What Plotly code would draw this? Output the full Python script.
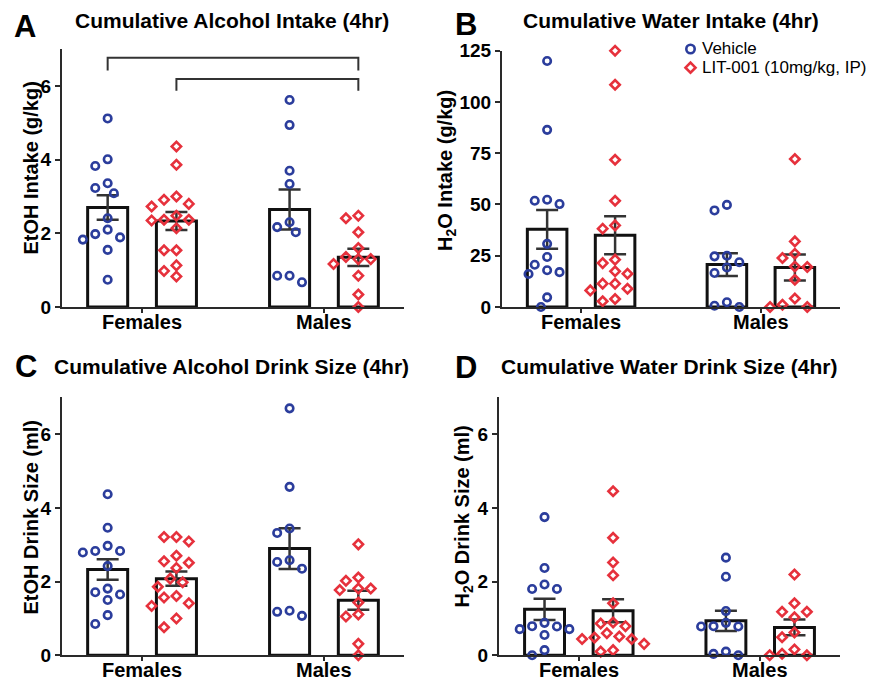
import numpy as np
import plotly.graph_objects as go

W, H = 874, 680

groups = ["Females", "Males"]
series_names = ["Vehicle", "LIT-001 (10mg/kg, IP)"]

# ---- Panel A: Cumulative Alcohol Intake (g/kg)
a_fem_veh = [5.12, 4.01, 3.83, 3.36, 3.23, 3.09, 2.41, 2.10, 1.98, 1.89, 1.83, 1.55, 0.74]
a_fem_lit = [4.36, 3.86, 3.00, 2.91, 2.80, 2.73, 2.48, 2.37, 2.37, 2.35, 2.14, 1.54, 1.54, 1.13, 0.98, 0.83]
a_mal_veh = [5.62, 4.94, 3.70, 3.34, 2.30, 2.17, 2.03, 0.85, 0.85, 0.67]
a_mal_lit = [2.48, 2.41, 2.03, 1.60, 1.36, 1.30, 1.30, 1.17, 0.85, 0.34, 0.00]

# ---- Panel B: Cumulative Water Intake (g/kg)
b_fem_veh = [120.0, 86.4, 52.3, 51.8, 50.2, 30.8, 24.4, 20.6, 17.9, 17.0, 16.1, 4.7, 0.0]
b_fem_lit = [125.0, 108.4, 71.8, 51.8, 39.8, 38.2, 23.1, 21.4, 17.4, 16.2, 11.4, 11.4, 8.9, 8.1, 3.9, 2.8]
b_mal_veh = [49.8, 47.1, 25.0, 24.7, 21.8, 19.3, 16.6, 2.3, 0.6, 0.0]
b_mal_lit = [72.2, 32.0, 26.0, 23.9, 19.8, 19.5, 13.3, 4.1, 1.1, 0.0, 0.0]

# ---- Panel C: Cumulative Alcohol Drink Size (ml)
c_fem_veh = [4.37, 3.46, 2.97, 2.83, 2.83, 2.79, 2.42, 1.81, 1.71, 1.65, 1.50, 1.09, 0.85]
c_fem_lit = [3.21, 3.21, 3.09, 2.70, 2.55, 2.51, 2.37, 2.08, 1.98, 1.86, 1.61, 1.57, 1.41, 1.34, 1.00, 0.76]
c_mal_veh = [6.70, 4.57, 3.44, 3.32, 2.58, 2.53, 2.35, 1.21, 1.18, 1.07]
c_mal_lit = [3.01, 2.11, 2.02, 1.81, 1.81, 1.77, 1.43, 1.11, 1.05, 0.31, 0.00]

# ---- Panel D: Cumulative Water Drink Size (ml)
d_fem_veh = [3.75, 2.37, 1.92, 1.80, 1.80, 0.88, 0.79, 0.78, 0.71, 0.71, 0.55, 0.14, 0.00]
d_fem_lit = [4.45, 3.19, 2.52, 2.17, 1.41, 0.89, 0.86, 0.79, 0.60, 0.51, 0.48, 0.44, 0.44, 0.31, 0.14, 0.10]
d_mal_veh = [2.65, 2.13, 1.20, 0.88, 0.79, 0.78, 0.78, 0.10, 0.04, 0.00]
d_mal_lit = [2.19, 1.41, 1.18, 1.18, 1.03, 0.62, 0.49, 0.16, 0.04, 0.00, 0.00]

# tick labels
ytick_ml = [0, 2, 4, 6]
ytick_water = [0, 25, 50, 75, 100, 125]

panels = [
    dict(letter="A", title="Cumulative Alcohol Intake (4hr)", ytitle="EtOH Intake (g/kg)",
         data=[[a_fem_veh, a_mal_veh], [a_fem_lit, a_mal_lit]], yrange=[0, 7], ticks=ytick_ml,
         box=(62, 404, 49.2, 307)),
    dict(letter="B", title="Cumulative Water Intake (4hr)", ytitle="H<sub>2</sub>O Intake (g/kg)",
         data=[[b_fem_veh, b_mal_veh], [b_fem_lit, b_mal_lit]], yrange=[0, 125], ticks=ytick_water,
         box=(502, 840, 50.7, 307)),
    dict(letter="C", title="Cumulative Alcohol Drink Size (4hr)", ytitle="EtOH Drink Size (ml)",
         data=[[c_fem_veh, c_mal_veh], [c_fem_lit, c_mal_lit]], yrange=[0, 7], ticks=ytick_ml,
         box=(62, 404, 397.3, 655.3)),
    dict(letter="D", title="Cumulative Water Drink Size (4hr)", ytitle="H<sub>2</sub>O Drink Size (ml)",
         data=[[d_fem_veh, d_mal_veh], [d_fem_lit, d_mal_lit]], yrange=[0, 7], ticks=ytick_ml,
         box=(499, 840, 397.3, 655.3)),
]

# ---- styles
BLUE = "#2b3d9c"
RED = "#e6313c"
colors = [BLUE, RED]
symbols = ["circle-open", "diamond-open"]
msizes = [7.5, 7.2]
offsets = [-0.189, 0.189]
BAR_W = 0.22
XRANGE = [-0.44, 1.44]
FONT = "Arial, Liberation Sans, Helvetica, sans-serif"
AX = "#2a2a2a"

title_pos = {"A": (232, 20), "B": (671, 20), "C": (232, 366.5), "D": (669, 366.5)}
letter_pos = {"A": (25, 27), "B": (466, 25), "C": (25.5, 366), "D": (466, 367)}
ytitle_pos = {"A": (30, 168.5), "B": (446, 171), "C": (30, 517.5), "D": (463, 516.5)}
CAT_LABEL_GAP = 15
legend_pos = [(690.5, 49), (690.5, 67.7)]


def xp(px):
    return px / W


def yp(py):
    return 1 - py / H


def swarm(vals, ppx, ppy, step=6.2, dia=11.0):
    placed = []
    offs = []
    cands = [0]
    for k in range(1, 12):
        cands += [-k, k]
    for v in vals:
        y = v * ppy
        xsel = 0
        for k in cands:
            x = k * step
            if all((x - a) ** 2 + (y - b) ** 2 >= dia ** 2 for a, b in placed):
                xsel = x
                break
        placed.append((xsel, y))
        offs.append(xsel / ppx)
    return offs


fig = go.Figure()
layout = dict(
    width=W, height=H, margin=dict(l=0, r=0, t=0, b=0, autoexpand=False),
    paper_bgcolor="white", plot_bgcolor="white",
    font=dict(family=FONT, color="black"),
    showlegend=False,
    annotations=[], shapes=[],
)

for i, p in enumerate(panels, start=1):
    xa = "x" if i == 1 else f"x{i}"
    ya = "y" if i == 1 else f"y{i}"
    x0, x1, ytop, ybot = p["box"]
    ppx = (x1 - x0) / (XRANGE[1] - XRANGE[0])
    ppy = (ybot - ytop) / (p["yrange"][1] - p["yrange"][0])

    # bars with mean +/- SEM
    for s in range(2):
        means, sems, xs = [], [], []
        for g in range(2):
            arr = np.array(p["data"][s][g], dtype=float)
            means.append(arr.mean())
            sems.append(arr.std(ddof=1) / np.sqrt(len(arr)))
            xs.append(g + offsets[s])
        fig.add_trace(go.Bar(
            x=xs, y=means, width=BAR_W, xaxis=xa, yaxis=ya, showlegend=False,
            marker=dict(color="white", line=dict(color="#111111", width=3)),
            error_y=dict(type="data", array=sems, visible=True, color="#333333", thickness=2.5, width=11),
        ))
    # individual points
    for s in range(2):
        px_all, py_all = [], []
        for g in range(2):
            vals = p["data"][s][g]
            offs = swarm(vals, ppx, ppy)
            px_all += [g + offsets[s] + o for o in offs]
            py_all += list(vals)
        fig.add_trace(go.Scatter(
            x=px_all, y=py_all, mode="markers", xaxis=xa, yaxis=ya, cliponaxis=False,
            name=series_names[s], showlegend=False,
            marker=dict(symbol=symbols[s], size=msizes[s], color=colors[s], line=dict(width=2.6, color=colors[s])),
        ))

    key_x = "xaxis" if i == 1 else f"xaxis{i}"
    key_y = "yaxis" if i == 1 else f"yaxis{i}"
    layout[key_x] = dict(
        domain=[xp(x0), xp(x1)], anchor=ya, range=XRANGE, tickmode="array",
        tickvals=list(range(len(groups))), showticklabels=False, showgrid=False, zeroline=False,
        showline=True, linecolor=AX, linewidth=2, ticks="outside", ticklen=4, tickwidth=2, tickcolor=AX,
        fixedrange=True, automargin=False,
    )
    layout[key_y] = dict(
        domain=[yp(ybot), yp(ytop)], anchor=xa, range=p["yrange"], tickmode="array",
        tickvals=p["ticks"], showgrid=False, zeroline=False,
        showline=True, linecolor=AX, linewidth=2, ticks="outside", ticklen=5, tickwidth=2, tickcolor=AX,
        tickfont=dict(size=19, family=FONT, weight="bold", color="black"),
        fixedrange=True, automargin=False,
    )

    # category labels under the x axis
    for g, name in enumerate(groups):
        layout["annotations"].append(dict(
            text="<b>" + name + "</b>", x=g, y=yp(ybot + CAT_LABEL_GAP), xref=xa, yref="paper",
            xanchor="center", yanchor="middle", showarrow=False,
            font=dict(size=20, family=FONT, color="black")))
    # y-axis title
    yx, yy = ytitle_pos[p["letter"]]
    layout["annotations"].append(dict(
        text="<b>" + p["ytitle"] + "</b>", x=xp(yx), y=yp(yy), xref="paper", yref="paper",
        xanchor="center", yanchor="middle", textangle=-90, showarrow=False,
        font=dict(size=20, family=FONT, color="black")))

    tx, ty = title_pos[p["letter"]]
    layout["annotations"].append(dict(
        text="<b>" + p["title"] + "</b>", x=xp(tx), y=yp(ty), xref="paper", yref="paper",
        xanchor="center", yanchor="middle", showarrow=False, font=dict(size=21, family=FONT, color="black")))
    lx, ly = letter_pos[p["letter"]]
    layout["annotations"].append(dict(
        text="<b>" + p["letter"] + "</b>", x=xp(lx), y=yp(ly), xref="paper", yref="paper",
        xanchor="center", yanchor="middle", showarrow=False, font=dict(size=31, family=FONT, color="black")))

# significance brackets in panel A (Vehicle F vs LIT M, LIT F vs LIT M)
brackets = [((0, 0), (1, 1), 6.77, 6.42), ((0, 1), (1, 1), 6.19, 5.87)]
for (ga, sa), (gb, sb), ytop_b, yend in brackets:
    xa_ = ga + offsets[sa]
    xb_ = gb + offsets[sb]
    layout["shapes"].append(dict(
        type="path", xref="x", yref="y",
        path=f"M {xa_},{yend} L {xa_},{ytop_b} L {xb_},{ytop_b} L {xb_},{yend}",
        line=dict(color="#333333", width=2)))

# legend (drawn in panel B's corner): symbol + label
for s, (mx, my) in enumerate(legend_pos):
    r = 4.2
    if s == 0:
        layout["shapes"].append(dict(
            type="circle", xref="paper", yref="paper",
            x0=xp(mx - r), x1=xp(mx + r), y0=yp(my + r), y1=yp(my - r),
            line=dict(color=colors[s], width=2.6)))
    else:
        d = 5.0
        layout["shapes"].append(dict(
            type="path", xref="paper", yref="paper",
            path=(f"M {xp(mx - d)},{yp(my)} L {xp(mx)},{yp(my - d)} L {xp(mx + d)},{yp(my)} "
                  f"L {xp(mx)},{yp(my + d)} Z"),
            line=dict(color=colors[s], width=2.6)))
    layout["annotations"].append(dict(
        text=series_names[s], x=xp(mx + 9), y=yp(my), xref="paper", yref="paper",
        xanchor="left", yanchor="middle", showarrow=False,
        font=dict(size=17, family=FONT, color="black")))

fig.update_layout(**layout)
fig.write_html(
    "out.html",
    config={"displayModeBar": False, "staticPlot": True},
    post_script="document.body.style.margin='0px';document.body.style.overflow='hidden';",
)
